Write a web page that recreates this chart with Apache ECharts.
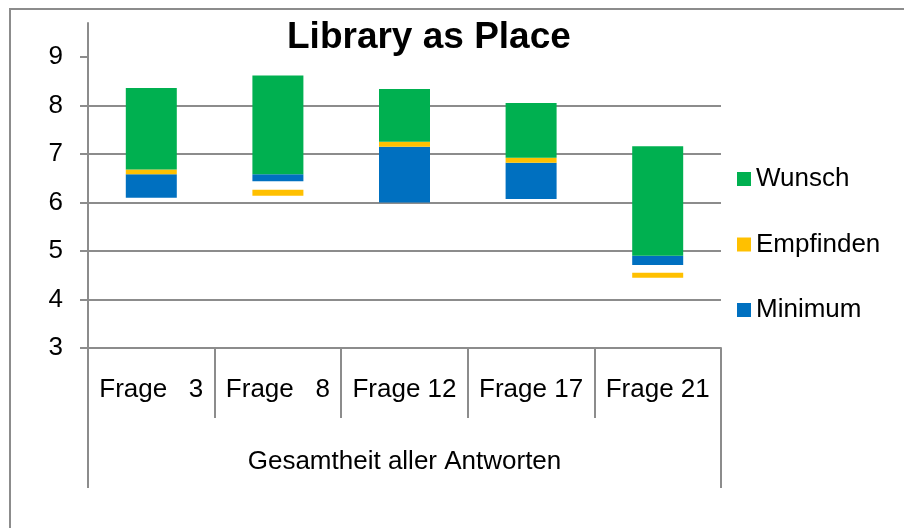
<!DOCTYPE html>
<html>
<head>
<meta charset="utf-8">
<title>Library as Place</title>
<script src="https://cdn.jsdelivr.net/npm/echarts@6/dist/echarts.min.js"></script>
<style>
  html, body { margin: 0; padding: 0; background: #fff; }
  #chart { width: 904px; height: 528px; }
</style>
</head>
<body>
<div id="chart"></div>
<script>
// Kategorien
var fragen = ["Frage   3", "Frage   8", "Frage 12", "Frage 17", "Frage 21"];
var gruppe = ["Gesamtheit aller Antworten"];
var yTicks = [3, 4, 5, 6, 7, 8, 9];

// Balken von / bis
var minimumVon = [6.10, 6.44, 6.00, 6.07, 4.71];
var minimumBis = [6.58, 6.58, 7.15, 6.82, 4.90];
var empfindenVon = [6.58, 6.14, 7.15, 6.82, 4.45];
var empfindenBis = [6.68, 6.26, 7.25, 6.92, 4.55];
var wunschVon = [6.68, 6.58, 7.25, 6.92, 4.90];
var wunschBis = [8.36, 8.62, 8.34, 8.05, 7.16];

var font = "Liberation Sans, Arial, sans-serif";
var grau = "#8c8c8c";

// schwebender Balken = unsichtbarer Sockel + sichtbares Stück im selben Stack
function floating(name, von, bis, color) {
  var len = bis.map(function (b, i) { return +(b - von[i]).toFixed(2); });
  return [
    {
      name: name + "_sockel",
      type: "bar",
      stack: name,
      barWidth: 51,
      barGap: "-100%",
      silent: true,
      itemStyle: { color: "transparent" },
      data: von
    },
    {
      name: name,
      type: "bar",
      stack: name,
      barWidth: 51,
      barGap: "-100%",
      itemStyle: { color: color },
      data: len
    }
  ];
}

var chart = echarts.init(document.getElementById("chart"));
var option = {
  animation: false,
  textStyle: { fontFamily: font },
  title: {
    text: "Library as Place",
    left: 287,
    top: 19,
    padding: 0,
    textStyle: { fontSize: 37, fontWeight: "bold", color: "#000", fontFamily: font }
  },
  legend: {
    orient: "vertical",
    left: 737,
    top: 166,
    padding: 0,
    itemWidth: 14,
    itemHeight: 14,
    itemGap: 39.5,
    icon: "rect",
    data: ["Wunsch", "Empfinden", "Minimum"],
    textStyle: { fontSize: 26, color: "#000", fontFamily: font }
  },
  graphic: [
    {
      type: "rect",
      shape: { x: 10, y: 9, width: 1000, height: 1000 },
      style: { fill: null, stroke: grau, lineWidth: 2 },
      silent: true
    }
  ],
  grid: { left: 88, right: 183, top: 23, bottom: 180 },
  xAxis: [
    {
      type: "category",
      data: fragen,
      position: "bottom",
      axisLine: { show: true, lineStyle: { color: grau, width: 2 } },
      axisTick: { show: true, interval: 0, length: 70, lineStyle: { color: grau, width: 2 } },
      axisLabel: { interval: 0, margin: 29, fontSize: 26, color: "#000", fontFamily: font }
    },
    {
      type: "category",
      data: gruppe,
      position: "bottom",
      axisLine: { show: false },
      axisTick: { show: true, interval: 0, length: 140, lineStyle: { color: grau, width: 2 } },
      axisLabel: { interval: 0, margin: 101, fontSize: 26, color: "#000", fontFamily: font }
    }
  ],
  yAxis: {
    type: "value",
    min: 3,
    max: 9.7,
    interval: 1,
    axisLine: { show: true, lineStyle: { color: grau, width: 2 } },
    axisTick: { show: true, length: 8, customValues: yTicks, lineStyle: { color: grau, width: 2 } },
    axisLabel: { customValues: yTicks, margin: 25, fontSize: 26, color: "#000", fontFamily: font },
    splitLine: { show: true, showMaxLine: false, lineStyle: { color: grau, width: 2 } }
  },
  series: []
    .concat(floating("Minimum", minimumVon, minimumBis, "#0070C0"))
    .concat(floating("Empfinden", empfindenVon, empfindenBis, "#FFC000"))
    .concat(floating("Wunsch", wunschVon, wunschBis, "#00B050"))
};
chart.setOption(option);
</script>
</body>
</html>
